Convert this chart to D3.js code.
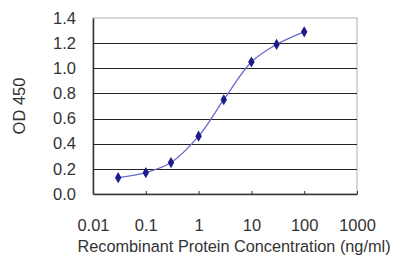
<!DOCTYPE html>
<html>
<head>
<meta charset="utf-8">
<script src="https://cdn.jsdelivr.net/npm/d3@7"></script>
<style>
  body { margin: 0; background: #fff; }
  text { font-family: "Liberation Sans", Arial, sans-serif; fill: #333; }
</style>
</head>
<body>
<div id="viz"></div>
<script>
// concentrations (ng/ml) and OD readings
var conc = [0.03, 0.1, 0.3, 1, 3, 10, 30, 100];
var od = [0.13, 0.17, 0.25, 0.46, 0.75, 1.05, 1.19, 1.29];
var xTicks = [0.01, 0.1, 1, 10, 100, 1000];
var xTickLabels = ["0.01", "0.1", "1", "10", "100", "1000"];
var yTicks = [0, 0.2, 0.4, 0.6, 0.8, 1.0, 1.2, 1.4];

//Set the chart dimensions
var margin = {top: 18, right: 43, bottom: 73, left: 93},
    width = 400 - margin.left - margin.right,
    height = 267 - margin.top - margin.bottom;

var svg = d3.select("#viz")
  .append("svg")
  .attr("width", 400)
  .attr("height", 267)
  .append("g")
  .attr("transform", "translate(" + margin.left + "," + margin.top + ")");

var x = d3.scaleLog()
  .domain([0.01, 1000])
  .range([0, width]);

var y = d3.scaleLinear()
  .domain([0, 1.4])
  .range([height, 0]);

//Frame: light top and right, grid lines dark
svg.append("rect")
  .attr("width", width)
  .attr("height", height)
  .attr("fill", "none")
  .attr("stroke", "#b0b0b0");

svg.selectAll(".grid")
  .data(yTicks.slice(1, -1))
  .enter()
  .append("line")
  .attr("x1", 0)
  .attr("x2", width)
  .attr("y1", function(d) { return Math.round(y(d)) + 0.5; })
  .attr("y2", function(d) { return Math.round(y(d)) + 0.5; })
  .attr("stroke", "#222")
  .attr("stroke-width", 1.2);

//Y axis
var yAxis = svg.append("g")
  .call(d3.axisLeft(y).tickValues(yTicks).tickFormat(d3.format(".1f")).tickSize(0).tickPadding(17));
yAxis.select(".domain").attr("stroke", "#333").attr("stroke-width", 1.5);
yAxis.selectAll("text").style("font-size", "16.5px").attr("fill", "#444");

//X axis
var xAxis = svg.append("g")
  .attr("transform", "translate(0," + height + ")")
  .call(d3.axisBottom(x).tickValues(xTicks)
    .tickFormat(function(d, i) { return xTickLabels[i]; })
    .tickSizeInner(-3).tickSizeOuter(0).tickPadding(25));
xAxis.select(".domain").attr("stroke", "#333").attr("stroke-width", 1.5);
xAxis.selectAll(".tick line").attr("stroke", "#333");
xAxis.selectAll("text").style("font-size", "16.5px").attr("fill", "#444");

//Curve through the points
var line = d3.line()
  .x(function(d, i) { return x(conc[i]); })
  .y(function(d) { return y(d); })
  .curve(d3.curveCatmullRom);

svg.append("path")
  .datum(od)
  .attr("d", line)
  .attr("fill", "none")
  .attr("stroke", "#6a6ac8")
  .attr("stroke-width", 1.3);

//Diamond markers
svg.selectAll(".pt")
  .data(od)
  .enter()
  .append("path")
  .attr("d", d3.symbol().type(d3.symbolDiamond).size(36))
  .attr("transform", function(d, i) { return "translate(" + x(conc[i]) + "," + y(d) + ")"; })
  .attr("fill", "#1c1c8a");

//Axis titles
svg.append("text")
  .attr("x", width / 2 + 9)
  .attr("y", height + 58)
  .attr("text-anchor", "middle")
  .style("font-size", "16.3px")
  .attr("fill", "#444")
  .text("Recombinant Protein Concentration (ng/ml)");

svg.append("text")
  .attr("transform", "translate(-68," + (height / 2) + ") rotate(-90)")
  .attr("text-anchor", "middle")
  .style("font-size", "16.5px")
  .attr("fill", "#444")
  .text("OD 450");
</script>
</body>
</html>
